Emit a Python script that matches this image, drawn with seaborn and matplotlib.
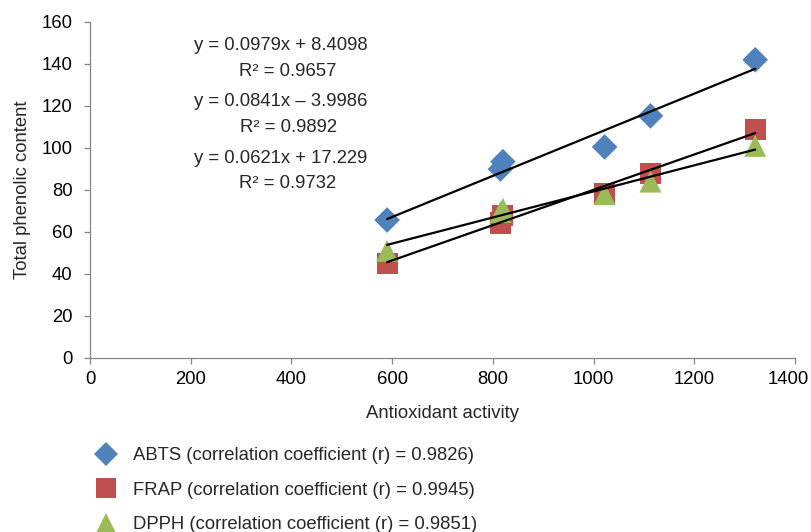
import numpy as np
import pandas as pd
import matplotlib
matplotlib.use("Agg")
import matplotlib.pyplot as plt
from matplotlib.lines import Line2D
from matplotlib.transforms import ScaledTranslation
import seaborn as sns

# ---- data ----
activity = [590, 815, 820, 1022, 1113, 1321]
abts = [65.7, 90.0, 93.5, 100.5, 115.3, 142.0]
frap = [44.8, 64.3, 68.0, 78.5, 87.8, 109.0]
dpph = [51.0, 69.5, 71.0, 78.0, 84.0, 101.0]

series_names = ["ABTS", "FRAP", "DPPH"]
slopes = [0.0979, 0.0841, 0.0621]
intercepts = [8.4098, -3.9986, 17.229]
r2 = ["0.9657", "0.9892", "0.9732"]
eq_text = ["y = 0.0979x + 8.4098", "y = 0.0841x \u2013 3.9986", "y = 0.0621x + 17.229"]
r_values = ["0.9826", "0.9945", "0.9851"]

x_ticks = [0, 200, 400, 600, 800, 1000, 1200, 1400]
y_ticks = [0, 20, 40, 60, 80, 100, 120, 140, 160]

colors = {"ABTS": "#4F81BD", "FRAP": "#C0504D", "DPPH": "#9BBB59"}
markers = {"ABTS": "D", "FRAP": "s", "DPPH": "^"}
sizes = {"ABTS": 170, "FRAP": 230, "DPPH": 250}

df = pd.DataFrame({
    "activity": activity * 3,
    "phenolic": abts + frap + dpph,
    "assay": sum([[n] * len(activity) for n in series_names], []),
})

FS = 13.3

sns.set_theme(style="white")
plt.rcParams["font.family"] = ["Liberation Sans", "DejaVu Sans"]

fig = plt.figure(figsize=(8.11, 5.32), dpi=100)
ax = fig.add_axes([90 / 811, 1 - 358 / 532, 705 / 811, 336 / 532])

for name in series_names:
    sub = df[df["assay"] == name]
    sns.scatterplot(data=sub, x="activity", y="phenolic", ax=ax,
                    marker=markers[name], color=colors[name], s=sizes[name],
                    edgecolor="none", linewidth=0, zorder=3, legend=False)

# trendlines
for name, m, b in zip(series_names, slopes, intercepts):
    xs = np.array([min(activity), max(activity)])
    tl = pd.DataFrame({"x": xs, "y": m * xs + b})
    sns.lineplot(data=tl, x="x", y="y", ax=ax, color="black", linewidth=1.6,
                 zorder=4, legend=False)

ax.set_xlim(0, 1400)
ax.set_ylim(0, 160)
ax.set_xticks(x_ticks)
ax.set_yticks(y_ticks)
ax.tick_params(axis="both", labelsize=FS, colors="#000000", length=4.5,
               direction="out", width=0.9, bottom=True, left=True)
ax.tick_params(axis="x", pad=5)
ax.tick_params(axis="y", pad=8)
for sp in ["top", "right"]:
    ax.spines[sp].set_visible(False)
for sp in ["left", "bottom"]:
    ax.spines[sp].set_color("#868686")
    ax.spines[sp].set_linewidth(0.9)
ax.tick_params(axis="both", color="#868686")

# keep the last x tick label inside the figure (as in the reference)
last = ax.get_xticklabels()[-1]
last.set_transform(last.get_transform() + ScaledTranslation(-7 / 100, 0, fig.dpi_scale_trans))

ax.set_xlabel("Antioxidant activity", fontsize=FS, labelpad=12)
ax.set_ylabel("Total phenolic content", fontsize=FS, labelpad=8)

# equations
eq_y = [45, 102, 158]
r_y = [72, 128, 183]
for t, r, yy, ry in zip(eq_text, r2, eq_y, r_y):
    fig.text(281 / 811, 1 - yy / 532, t, ha="center", va="center", fontsize=FS)
    fig.text(288 / 811, 1 - ry / 532, "R\u00b2 = " + r, ha="center", va="center", fontsize=FS)

# legend
handles = [Line2D([], [], linestyle="none", marker=markers[n], color=colors[n],
                  markersize={"ABTS": 12, "FRAP": 14, "DPPH": 14}[n], markeredgewidth=0)
           for n in series_names]
labels = [f"{n} (correlation coefficient (r) = {r})" for n, r in zip(series_names, r_values)]
fig.legend(handles, labels, loc="upper left", bbox_to_anchor=(88 / 811, 1 - 440 / 532),
           frameon=False, fontsize=FS, labelspacing=0.95, handletextpad=0.95,
           handlelength=1.1, borderaxespad=0)

fig.savefig("out.png", dpi=100)
